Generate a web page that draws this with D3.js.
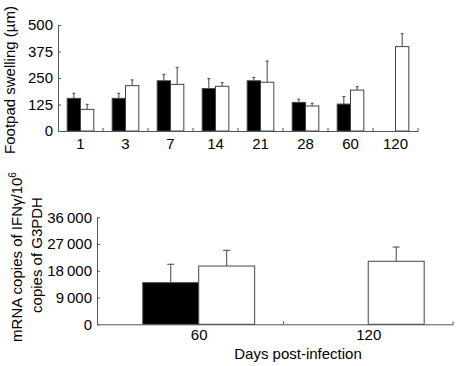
<!DOCTYPE html>
<html>
<head>
<meta charset="utf-8">
<script src="https://cdn.jsdelivr.net/npm/d3@7"></script>
<style>
  body { margin: 0; background: #fff; }
  svg { display: block; font-family: "Liberation Sans", Arial, sans-serif; }
  .axis path, .axis line { stroke: #555; }
  .axis text { fill: #000; font-size: 15px; font-family: "Liberation Sans", Arial, sans-serif; }
</style>
</head>
<body>
<div id="chart"></div>
<script>
// footpad swelling (µm), mean and upward SD
const days = ["1", "3", "7", "14", "21", "28", "60", "120"];
const footBlack = [154, 154, 237, 200, 237, 135, 127, null];
const footBlackErr = [24, 24, 30, 47, 16, 15, 35, null];
const footWhite = [102, 214, 220, 211, 230, 118, 193, 398];
const footWhiteErr = [24, 27, 80, 17, 100, 13, 16, 61];
const footTicks = [0, 125, 250, 375, 500];

// IFN-gamma mRNA copies per 10^6 copies of G3PDH
const ifnDays = ["60", "120"];
const ifnBlack = [14000, null];
const ifnBlackErr = [6200, null];
const ifnWhite = [19600, 21200];
const ifnWhiteErr = [5300, 4800];
const ifnTicks = [0, 9000, 18000, 27000, 36000];

const svg = d3.select("#chart").append("svg")
    .attr("width", 458)
    .attr("height", 366);

const barStroke = "#444";

function errorBar(g, cx, yTop, yErr, cap) {
    g.append("line")
        .attr("x1", cx).attr("x2", cx)
        .attr("y1", yTop).attr("y2", yErr)
        .attr("stroke", barStroke);
    g.append("line")
        .attr("x1", cx - cap).attr("x2", cx + cap)
        .attr("y1", yErr).attr("y2", yErr)
        .attr("stroke", barStroke);
}

// ---------- top panel ----------
{
    const left = 58, right = 418, top = 25, bottom = 131;
    const g = svg.append("g");

    const x = d3.scaleBand().domain(days).range([left, right]).padding(0);
    const y = d3.scaleLinear().domain([0, 500]).range([bottom, top]);
    const bw = x.bandwidth() * 0.296;

    const rows = days.map((d, i) => ({
        day: d,
        black: footBlack[i], blackErr: footBlackErr[i],
        white: footWhite[i], whiteErr: footWhiteErr[i]
    }));

    rows.forEach(r => {
        const c = x(r.day) + x.bandwidth() / 2;
        if (r.black != null) {
            g.append("rect")
                .attr("x", c - bw).attr("y", y(r.black))
                .attr("width", bw).attr("height", y(0) - y(r.black))
                .attr("fill", "#000").attr("stroke", barStroke);
            errorBar(g, c - bw / 2, y(r.black), y(r.black + r.blackErr), 1.5);
        }
        if (r.white != null) {
            g.append("rect")
                .attr("x", c).attr("y", y(r.white))
                .attr("width", bw).attr("height", y(0) - y(r.white))
                .attr("fill", "#fff").attr("stroke", barStroke);
            errorBar(g, c + bw / 2, y(r.white), y(r.white + r.whiteErr), 1.5);
        }
    });

    g.append("g")
        .attr("class", "axis")
        .attr("transform", `translate(${left},0)`)
        .call(d3.axisLeft(y).tickValues(footTicks).tickSizeInner(-3).tickSizeOuter(0).tickPadding(5));

    const xAxis = g.append("g")
        .attr("class", "axis")
        .attr("transform", `translate(0,${bottom})`)
        .call(d3.axisBottom(x).tickSize(0).tickPadding(7));

    xAxis.selectAll(".bound")
        .data(days)
        .enter()
        .append("line")
        .attr("class", "bound")
        .attr("x1", d => x(d) + x.bandwidth())
        .attr("x2", d => x(d) + x.bandwidth())
        .attr("y1", 0).attr("y2", -3);

    svg.append("text")
        .attr("transform", "translate(15,80) rotate(-90)")
        .attr("text-anchor", "middle")
        .attr("font-size", 15)
        .text("Footpad swelling (µm)");
}

// ---------- bottom panel ----------
{
    const left = 97, right = 453, top = 217.3, bottom = 324.3;
    const g = svg.append("g");

    const x = d3.scaleLinear().domain([0.4, 2.5]).range([left, right]);
    const y = d3.scaleLinear().domain([0, 36000]).range([bottom, top]);
    const bw = x(0.33) - x(0);
    const fmt = d3.formatLocale({decimal: ".", thousands: "\u2009", grouping: [3], currency: ["", ""]}).format(",d");

    ifnDays.forEach((d, i) => {
        const c = x(i + 1);
        if (ifnBlack[i] != null) {
            g.append("rect")
                .attr("x", c - bw).attr("y", y(ifnBlack[i]))
                .attr("width", bw).attr("height", y(0) - y(ifnBlack[i]))
                .attr("fill", "#000").attr("stroke", barStroke);
            errorBar(g, c - bw / 2, y(ifnBlack[i]), y(ifnBlack[i] + ifnBlackErr[i]), 3.5);
        }
        if (ifnWhite[i] != null) {
            g.append("rect")
                .attr("x", c).attr("y", y(ifnWhite[i]))
                .attr("width", bw).attr("height", y(0) - y(ifnWhite[i]))
                .attr("fill", "#fff").attr("stroke", barStroke);
            errorBar(g, c + bw / 2, y(ifnWhite[i]), y(ifnWhite[i] + ifnWhiteErr[i]), 3.5);
        }
    });

    g.append("g")
        .attr("class", "axis")
        .attr("transform", `translate(${left},0)`)
        .call(d3.axisLeft(y).tickValues(ifnTicks).tickFormat(fmt).tickSizeInner(-3).tickSizeOuter(0).tickPadding(5));

    const xAxis = g.append("g")
        .attr("class", "axis")
        .attr("transform", `translate(0,${bottom})`)
        .call(d3.axisBottom(x).tickValues([1, 2]).tickFormat(i => ifnDays[i - 1]).tickSize(0).tickPadding(5));

    xAxis.selectAll(".bound")
        .data([1.5, 2.5])
        .enter()
        .append("line")
        .attr("class", "bound")
        .attr("x1", d => x(d)).attr("x2", d => x(d))
        .attr("y1", 0).attr("y2", -3);

    const lab = svg.append("text")
        .attr("transform", "translate(22,257) rotate(-90)")
        .attr("text-anchor", "middle")
        .attr("font-size", 15);
    lab.append("tspan").text("mRNA copies of IFNγ/10");
    lab.append("tspan").attr("font-size", 10).attr("dy", -6).text("6");

    svg.append("text")
        .attr("transform", "translate(42,255) rotate(-90)")
        .attr("text-anchor", "middle")
        .attr("font-size", 15)
        .text("copies of G3PDH");

    svg.append("text")
        .attr("x", 298).attr("y", 359)
        .attr("text-anchor", "middle")
        .attr("font-size", 15)
        .text("Days post-infection");
}
</script>
</body>
</html>
